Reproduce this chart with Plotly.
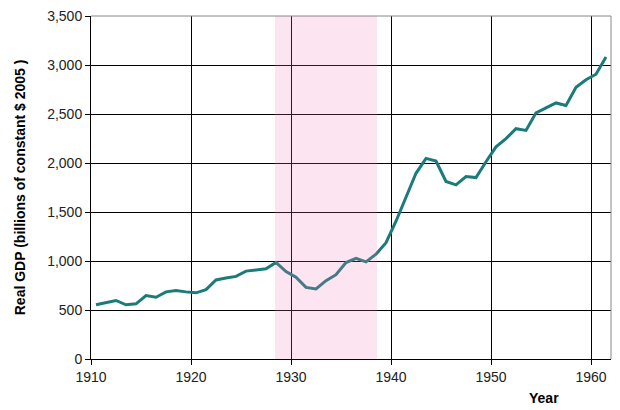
import numpy as np
import plotly.graph_objects as go

# real GDP, billions of constant 2005 dollars
years = list(range(1911, 1963))
gdp = [553, 573, 597, 553, 563, 647, 630, 685, 698, 685,
       675, 708, 806, 826, 843, 897, 910, 920, 985, 893,
       835, 731, 715, 799, 860, 984, 1028, 991, 1069, 1187,
       1406, 1642, 1895, 2047, 2020, 1811, 1777, 1861, 1851, 2013,
       2165, 2249, 2350, 2333, 2512, 2562, 2613, 2586, 2772, 2850,
       2906, 3082]

# depression period shading
band = [1928.4, 1938.6]

x_ticks = [1910, 1920, 1930, 1940, 1950, 1960]
y_ticks = [0, 500, 1000, 1500, 2000, 2500, 3000, 3500]

# each annual value sits half a year before the year mark
x = np.array(years) - 0.5

fig = go.Figure()
fig.add_trace(go.Scatter(x=x, y=gdp, mode="lines",
                         line=dict(color="#1b7b7b", width=3),
                         showlegend=False, hoverinfo="skip"))

fig.add_shape(type="rect", xref="x", yref="paper",
              x0=band[0], x1=band[1], y0=0, y1=1,
              fillcolor="rgba(240,120,180,0.2)", line_width=0, layer="above")

# gray frame on top and right
fig.add_shape(type="line", xref="paper", yref="paper", x0=0, x1=1, y0=1, y1=1,
              line=dict(color="#888888", width=1), layer="above")
fig.add_shape(type="line", xref="paper", yref="paper", x0=1, x1=1, y0=0, y1=1,
              line=dict(color="#888888", width=1), layer="above")

fig.update_xaxes(range=[1910, 1962], tickvals=x_ticks,
                 showgrid=True, gridcolor="black", gridwidth=1,
                 showline=True, linecolor="black", linewidth=1,
                 ticks="outside", ticklen=5, tickcolor="black",
                 ticklabeloverflow="allow", automargin=False,
                 zeroline=False, fixedrange=True)
fig.update_yaxes(range=[0, 3500], tickvals=y_ticks, tickformat=",",
                 showgrid=True, gridcolor="black", gridwidth=1,
                 showline=True, linecolor="black", linewidth=1,
                 ticks="outside", ticklen=5, tickcolor="black",
                 ticklabeloverflow="allow", automargin=False,
                 zeroline=False, fixedrange=True)

fig.add_annotation(text="<b>Year</b>", xref="paper", yref="paper",
                   x=0.871, y=-0.114, xanchor="center", yanchor="middle",
                   showarrow=False, font=dict(size=14, color="black"))
fig.add_annotation(text="<b>Real GDP (billions of constant $ 2005 )</b>",
                   xref="paper", yref="paper", x=-0.137, y=0.5,
                   xanchor="center", yanchor="middle",
                   textangle=-90, showarrow=False,
                   font=dict(size=14, color="black"))

# page body adds an 8px offset, so the figure is a bit smaller than the window
fig.update_layout(width=612, height=402,
                  margin=dict(l=83, r=9, t=8, b=51, autoexpand=False),
                  plot_bgcolor="white", paper_bgcolor="white",
                  font=dict(family="Liberation Sans, Arial", size=14, color="#222222"))

fig.write_html("out.html")
